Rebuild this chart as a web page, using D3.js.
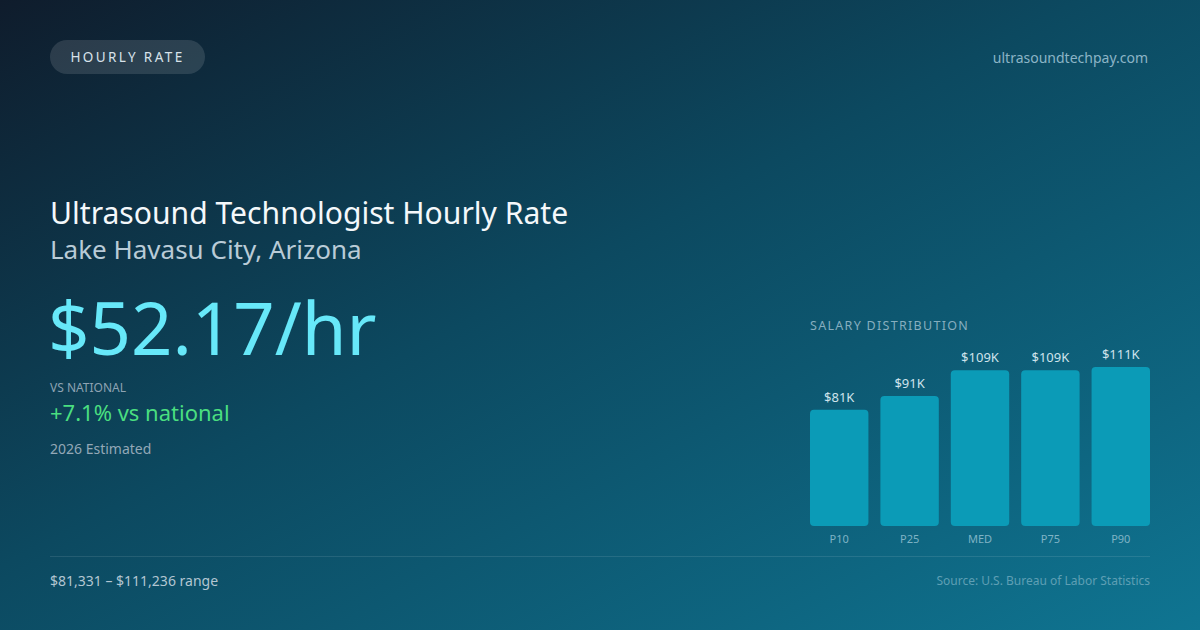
<!DOCTYPE html>
<html lang="en">
<head>
  <meta charset="utf-8" />
  <title>Ultrasound Technologist Hourly Rate</title>
  <script src="https://d3js.org/d3.v7.min.js"></script>
  <style>
    html, body { margin: 0; padding: 0; background: #0f1e2e; }
    svg { display: block; font-family: "Noto Sans", "Open Sans", sans-serif; }
  </style>
</head>
<body>
  <svg id="card" width="1200" height="630"></svg>
  <script>
    // chart data
    const percentiles = ["P10", "P25", "MED", "P75", "P90"];
    const salaryK = [81.331, 91, 109, 109, 111.236];
    const valueLabels = ["$81K", "$91K", "$109K", "$109K", "$111K"];

    const W = 1200, H = 630;
    const svg = d3.select("#card");

    // background gradient
    const defs = svg.append("defs");
    const bg = defs.append("linearGradient")
      .attr("id", "bg").attr("x1", "0%").attr("y1", "0%").attr("x2", "100%").attr("y2", "100%");
    bg.append("stop").attr("offset", "0%").attr("stop-color", "#0f1c2c");
    bg.append("stop").attr("offset", "45%").attr("stop-color", "#0c4960");
    bg.append("stop").attr("offset", "100%").attr("stop-color", "#0f7592");
    svg.append("rect").attr("width", W).attr("height", H).attr("fill", "url(#bg)");

    // top pill + url
    svg.append("rect")
      .attr("x", 50).attr("y", 40).attr("width", 155).attr("height", 34).attr("rx", 17)
      .attr("fill", "rgba(255,255,255,0.12)");
    svg.append("text")
      .attr("x", 127.5).attr("y", 62).attr("text-anchor", "middle")
      .attr("font-size", 13.5).attr("letter-spacing", 2.4).attr("fill", "#d8e2ea")
      .text("HOURLY RATE");
    svg.append("text")
      .attr("x", 1148).attr("y", 63).attr("text-anchor", "end")
      .attr("font-size", 14).attr("fill", "#8bb4c6")
      .text("ultrasoundtechpay.com");

    // headline block
    svg.append("text").attr("x", 50).attr("y", 224)
      .attr("font-size", 30.1).attr("fill", "#f4f8fb")
      .text("Ultrasound Technologist Hourly Rate");
    svg.append("text").attr("x", 50).attr("y", 259)
      .attr("font-size", 26).attr("fill", "#b9cbd7")
      .text("Lake Havasu City, Arizona");
    svg.append("text").attr("x", 48).attr("y", 355)
      .attr("font-size", 72.5).attr("fill", "#67e8f9")
      .text("$52.17/hr");
    svg.append("text").attr("x", 50).attr("y", 392)
      .attr("font-size", 12).attr("fill", "#8ea3b3")
      .text("VS NATIONAL");
    svg.append("text").attr("x", 50).attr("y", 421)
      .attr("font-size", 22).attr("fill", "#4ade80")
      .text("+7.1% vs national");
    svg.append("text").attr("x", 50).attr("y", 454)
      .attr("font-size", 14).attr("fill", "#93a8b7")
      .text("2026 Estimated");

    // footer
    svg.append("line")
      .attr("x1", 50).attr("x2", 1150).attr("y1", 556.5).attr("y2", 556.5)
      .attr("stroke", "rgba(255,255,255,0.1)");
    svg.append("text").attr("x", 50).attr("y", 586)
      .attr("font-size", 14).attr("fill", "#b3c6d2")
      .text("$81,331 \u2013 $111,236 range");
    svg.append("text").attr("x", 1150).attr("y", 585).attr("text-anchor", "end")
      .attr("font-size", 12).attr("fill", "#5e9fb4")
      .text("Source: U.S. Bureau of Labor Statistics");

    // salary distribution bars
    svg.append("text").attr("x", 810).attr("y", 329.5)
      .attr("font-size", 12.5).attr("letter-spacing", 1.3).attr("fill", "#86aebf")
      .text("SALARY DISTRIBUTION");

    const x = d3.scaleBand().domain(percentiles).range([810, 1150]).paddingInner(0.17);
    const y = d3.scaleLinear().domain([0, d3.max(salaryK)]).range([526, 367]);

    const g = svg.append("g");
    const bars = g.selectAll("g.bar")
      .data(percentiles.map((p, i) => ({ p, v: salaryK[i], label: valueLabels[i] })))
      .enter().append("g").attr("class", "bar");

    bars.append("rect")
      .attr("x", d => x(d.p)).attr("width", x.bandwidth())
      .attr("y", d => y(d.v)).attr("height", d => y(0) - y(d.v))
      .attr("rx", 4).attr("fill", "#0b9bb7");

    bars.append("text")
      .attr("x", d => x(d.p) + x.bandwidth() / 2).attr("y", d => y(d.v) - 8)
      .attr("text-anchor", "middle").attr("font-size", 13).attr("fill", "#cfe3ec")
      .text(d => d.label);

    const axis = d3.axisBottom(x).tickSize(0).tickPadding(9);
    const ax = svg.append("g").attr("transform", "translate(0,526)").call(axis);
    ax.select(".domain").remove();
    ax.selectAll("text")
      .attr("font-family", "Noto Sans, Open Sans, sans-serif")
      .attr("font-size", 11).attr("fill", "#7fb3c5");
  </script>
</body>
</html>
